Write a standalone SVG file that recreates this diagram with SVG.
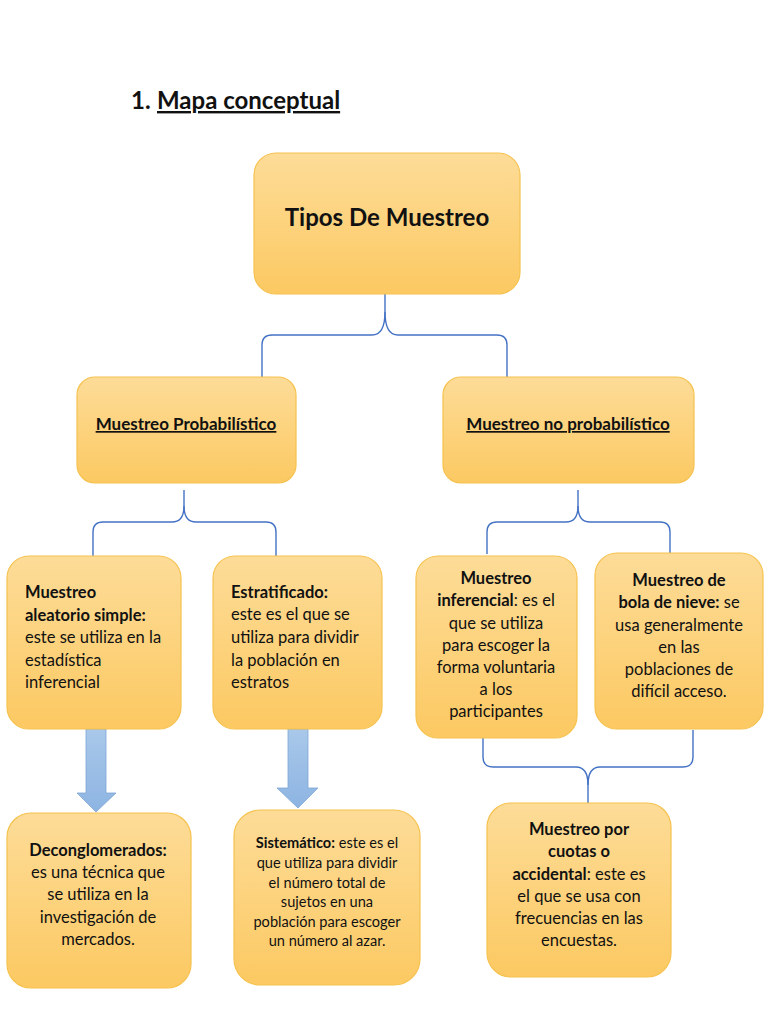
<svg xmlns="http://www.w3.org/2000/svg" width="768" height="1024" viewBox="0 0 768 1024">
<defs>
<linearGradient id="gOrange" x1="0" y1="0" x2="0" y2="1">
<stop offset="0" stop-color="#fddc98"/>
<stop offset="1" stop-color="#fcc962"/>
</linearGradient>
<linearGradient id="gBlue" x1="0" y1="0" x2="0" y2="1">
<stop offset="0" stop-color="#a9c8ea"/>
<stop offset="1" stop-color="#8db4e2"/>
</linearGradient>
<style>
.box{fill:url(#gOrange);stroke:#f6c24f;stroke-width:1.2}
.t{font-family:Lato,"Liberation Sans",sans-serif;fill:#111;font-size:16.5px}
.h1{font-size:24px}
.h2{font-size:17px}
.sm{font-size:14.6px}
.b{font-weight:bold}
.c{text-anchor:middle}
.br{fill:none;stroke:#4472c4;stroke-width:1.4}
.arr{fill:url(#gBlue);stroke:#7fa7d6;stroke-width:0.8}
</style>
</defs>
<rect width="768" height="1024" fill="#ffffff"/>

<g id="title">
<text class="t b h1" x="131" y="109">1.</text>
<text class="t b h1" x="157" y="109" text-decoration="underline">Mapa conceptual</text>
</g>

<g id="connectors">
<path class="br" d="M385,294 L385,312 Q385,335 372,335 L272,335 Q262,335 262,345 L262,377"/>
<path class="br" d="M385,312 Q385,335 398,335 L497,335 Q507,335 507,345 L507,377"/>
<path class="br" d="M184,490 L184,506 Q184,522 172,522 L103,522 Q93,522 93,532 L93,556"/>
<path class="br" d="M184,506 Q184,522 196,522 L266,522 Q276,522 276,532 L276,556"/>
<path class="br" d="M578,490 L578,506 Q578,522 566,522 L497,522 Q487,522 487,532 L487,554"/>
<path class="br" d="M578,506 Q578,522 590,522 L660,522 Q670,522 670,532 L670,553"/>
<path class="br" d="M483,733 L483,757 Q483,767 493,767 L576,767 Q588,767 588,785 L588,803"/>
<path class="br" d="M693,730 L693,757 Q693,767 683,767 L600,767 Q588,767 588,785"/>
<path class="arr" d="M86,729 L106,729 L106,793 L116,793 L96,812 L77,793 L86,793 Z"/>
<path class="arr" d="M288,729 L308,729 L308,788 L318,788 L298,808 L277,788 L288,788 Z"/>
</g>

<g id="n-root">
<rect class="box" x="254" y="153" width="266" height="141" rx="22"/>
<text class="t b c h1" x="387" y="226">Tipos De Muestreo</text>
</g>

<g id="n-prob">
<rect class="box" x="77" y="377" width="219" height="106" rx="18"/>
<text class="t b c h2" x="186" y="430" text-decoration="underline">Muestreo Probabilístico</text>
</g>

<g id="n-noprob">
<rect class="box" x="443" y="377" width="251" height="106" rx="18"/>
<text class="t b c h2" x="568" y="430" text-decoration="underline">Muestreo no probabilístico</text>
</g>

<g id="n-aleatorio">
<rect class="box" x="7" y="556" width="174" height="173" rx="22"/>
<text class="t b" x="25" y="598">Muestreo</text>
<text class="t b" x="25" y="621">aleatorio simple:</text>
<text class="t" x="25" y="643">este se utiliza en la</text>
<text class="t" x="25" y="666">estadística</text>
<text class="t" x="25" y="688">inferencial</text>
</g>

<g id="n-estratificado">
<rect class="box" x="213" y="556" width="169" height="173" rx="22"/>
<text class="t b" x="231" y="598">Estratificado:</text>
<text class="t" x="231" y="620">este es el que se</text>
<text class="t" x="231" y="643">utiliza para dividir</text>
<text class="t" x="231" y="666">la población en</text>
<text class="t" x="231" y="688">estratos</text>
</g>

<g id="n-inferencial">
<rect class="box" x="416" y="556" width="161" height="182" rx="22"/>
<text class="t b c" x="496" y="584">Muestreo</text>
<text class="t c" x="496" y="606"><tspan class="b">inferencial</tspan>: es el</text>
<text class="t c" x="496" y="629">que se utiliza</text>
<text class="t c" x="496" y="651">para escoger la</text>
<text class="t c" x="496" y="673">forma voluntaria</text>
<text class="t c" x="496" y="695">a los</text>
<text class="t c" x="496" y="717">participantes</text>
</g>

<g id="n-bola">
<rect class="box" x="595" y="553" width="168" height="176" rx="22"/>
<text class="t b c" x="679" y="586">Muestreo de</text>
<text class="t c" x="679" y="608"><tspan class="b">bola de nieve:</tspan> se</text>
<text class="t c" x="679" y="631">usa generalmente</text>
<text class="t c" x="679" y="653">en las</text>
<text class="t c" x="679" y="675">poblaciones de</text>
<text class="t c" x="679" y="697">difícil acceso.</text>
</g>

<g id="n-conglomerados">
<rect class="box" x="7" y="813" width="184" height="175" rx="24"/>
<text class="t b c" x="98" y="856">Deconglomerados:</text>
<text class="t c" x="98" y="878">es una técnica que</text>
<text class="t c" x="98" y="900">se utiliza en la</text>
<text class="t c" x="98" y="923">investigación de</text>
<text class="t c" x="98" y="945">mercados.</text>
</g>

<g id="n-sistematico">
<rect class="box" x="234" y="810" width="186" height="175" rx="26"/>
<text class="t c sm" x="327" y="848"><tspan class="b">Sistemático:</tspan> este es el</text>
<text class="t c sm" x="327" y="868">que utiliza para dividir</text>
<text class="t c sm" x="327" y="888">el número total de</text>
<text class="t c sm" x="327" y="907">sujetos en una</text>
<text class="t c sm" x="327" y="927">población para escoger</text>
<text class="t c sm" x="327" y="946">un número al azar.</text>
</g>

<g id="n-cuotas">
<rect class="box" x="487" y="803" width="184" height="174" rx="24"/>
<text class="t b c" x="579" y="835">Muestreo por</text>
<text class="t b c" x="579" y="857">cuotas o</text>
<text class="t c" x="579" y="880"><tspan class="b">accidental</tspan>: este es</text>
<text class="t c" x="579" y="902">el que se usa con</text>
<text class="t c" x="579" y="924">frecuencias en las</text>
<text class="t c" x="579" y="946">encuestas.</text>
</g>
</svg>
